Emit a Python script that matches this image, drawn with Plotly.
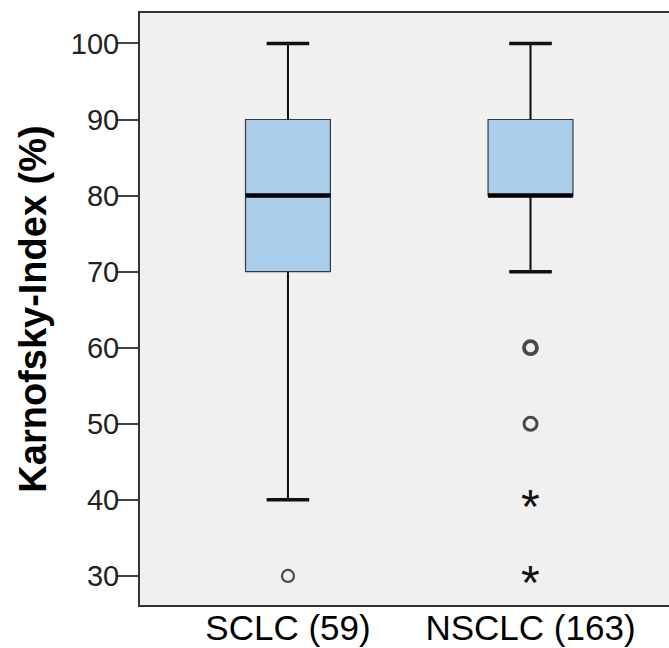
import plotly.graph_objects as go

# Karnofsky index by tumour type (box statistics in %)
groups = ["SCLC (59)", "NSCLC (163)"]
q1 = [70, 80]
median = [80, 80]
q3 = [90, 90]
lower_whisker = [40, 70]
upper_whisker = [100, 100]

# outliers (circles) and extreme values (asterisks) per group
outliers = [[30], [60, 50]]
extremes = [[], [40, 30]]

y_ticks = [30, 40, 50, 60, 70, 80, 90, 100]

FONT = "Arial, 'Liberation Sans', sans-serif"
BOX_W = 0.35
CAP_W = BOX_W * 0.5
xpos = list(range(len(groups)))

fig = go.Figure()

fig.add_trace(go.Box(
    x=xpos, q1=q1, median=median, q3=q3,
    lowerfence=lower_whisker, upperfence=upper_whisker,
    width=BOX_W, whiskerwidth=0.5,
    fillcolor="#AACDEC", line=dict(color="#3a3a3a", width=1.2),
    boxpoints=False, hoverinfo="skip", showlegend=False,
))

# heavier whisker stems, caps and median bars
stem_x, stem_y, cap_x, cap_y, med_x, med_y = [], [], [], [], [], []
for i, x in enumerate(xpos):
    stem_x += [x, x, None, x, x, None]
    stem_y += [lower_whisker[i], q1[i], None, q3[i], upper_whisker[i], None]
    for v in (lower_whisker[i], upper_whisker[i]):
        cap_x += [x - CAP_W / 2, x + CAP_W / 2, None]
        cap_y += [v, v, None]
    med_x += [x - BOX_W / 2, x + BOX_W / 2, None]
    med_y += [median[i], median[i], None]

fig.add_trace(go.Scatter(x=stem_x, y=stem_y, mode="lines",
                         line=dict(color="#111111", width=2),
                         hoverinfo="skip", showlegend=False))
fig.add_trace(go.Scatter(x=cap_x, y=cap_y, mode="lines",
                         line=dict(color="#111111", width=3.5),
                         hoverinfo="skip", showlegend=False))
fig.add_trace(go.Scatter(x=med_x, y=med_y, mode="lines",
                         line=dict(color="#000000", width=4.5),
                         hoverinfo="skip", showlegend=False))

# outlier circles
for i, vals in enumerate(outliers):
    widths = [2.2] if i == 0 else [3.8, 3.0]
    sizes = [12] if i == 0 else [13, 13]
    fig.add_trace(go.Scatter(
        x=[xpos[i]] * len(vals), y=vals, mode="markers",
        marker=dict(symbol="circle-open", size=sizes, color="#000000",
                    line=dict(width=widths, color="#000000")),
        hoverinfo="skip", showlegend=False,
    ))

# extreme values drawn as asterisks
for i, vals in enumerate(extremes):
    for v in vals:
        fig.add_annotation(x=xpos[i], y=v, xref="x", yref="y", text="*",
                           showarrow=False, yshift=-7,
                           font=dict(family=FONT, size=48, color="#111111"))

fig.update_layout(
    width=669, height=648,
    margin=dict(l=140, r=0, t=13, b=43),
    paper_bgcolor="white", plot_bgcolor="#F0F0F0",
    font=dict(family=FONT, color="#000000"),
    xaxis=dict(
        range=[-0.610, 1.571], tickvals=xpos, ticktext=groups,
        showgrid=False, zeroline=False, ticks="", automargin=False,
        showline=True, mirror=True, linecolor="#333333", linewidth=2,
        ticklabelstandoff=-9,
        tickfont=dict(family=FONT, size=35, color="#000000"),
    ),
    yaxis=dict(
        range=[26.18, 104.0], tickvals=y_ticks, automargin=False,
        showgrid=False, zeroline=False,
        showline=True, linecolor="#333333", linewidth=2,
        ticks="outside", ticklen=22, tickwidth=2, tickcolor="#444444",
        ticklabelstandoff=-9,
        tickfont=dict(family=FONT, size=29, color="#222222"),
        title=dict(text="<b>Karnofsky-Index (%)</b>", standoff=13,
                   font=dict(family=FONT, size=38, color="#000000")),
    ),
)

fig.write_html("out.html")
